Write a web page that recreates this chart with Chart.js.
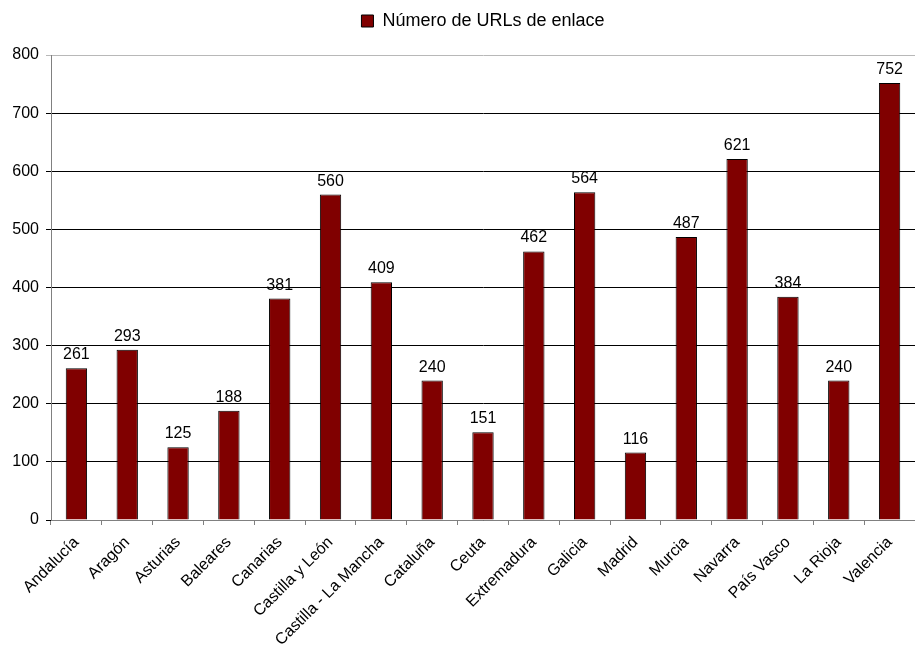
<!DOCTYPE html>
<html>
<head>
<meta charset="utf-8">
<script src="https://cdn.jsdelivr.net/npm/chart.js@4/dist/chart.umd.min.js"></script>
<style>
  html, body { margin: 0; padding: 0; background: #fff; }
  #wrap { width: 915px; height: 649px; }
</style>
</head>
<body>
<div id="wrap"><canvas id="chart" width="915" height="649"></canvas></div>
<script>
// Values
var regiones = ["Andalucía", "Aragón", "Asturias", "Baleares", "Canarias", "Castilla y León",
  "Castilla - La Mancha", "Cataluña", "Ceuta", "Extremadura", "Galicia", "Madrid",
  "Murcia", "Navarra", "País Vasco", "La Rioja", "Valencia"];
var urls = [261, 293, 125, 188, 381, 560, 409, 240, 151, 462, 564, 116, 487, 621, 384, 240, 752];
var serieNombre = "Número de URLs de enlace";

Chart.defaults.font.family = "'Liberation Sans', Arial, sans-serif";
Chart.defaults.font.size = 16;
Chart.defaults.color = "#000";

// draw the value on top of every bar
var barLabels = {
  id: "barLabels",
  afterDatasetsDraw: function (chart) {
    var c = chart.ctx;
    var meta = chart.getDatasetMeta(0);
    c.save();
    c.font = "16px 'Liberation Sans', Arial, sans-serif";
    c.fillStyle = "#000";
    c.textAlign = "center";
    c.textBaseline = "alphabetic";
    meta.data.forEach(function (bar, i) {
      c.fillText(chart.data.datasets[0].data[i], bar.x, bar.y - 9);
    });
    c.restore();
  }
};

var ctx = document.getElementById("chart").getContext("2d");
new Chart(ctx, {
  type: "bar",
  data: {
    labels: regiones,
    datasets: [{
      label: serieNombre,
      data: urls,
      backgroundColor: "#800000",
      borderColor: "#000",
      borderWidth: 1,
      barPercentage: 0.42,
      categoryPercentage: 1
    }]
  },
  plugins: [barLabels],
  options: {
    responsive: false,
    animation: false,
    layout: { padding: { top: 0, right: 0, left: 0, bottom: 0 } },
    plugins: {
      tooltip: { enabled: false },
      legend: {
        position: "top",
        fullSize: false,
        labels: {
          boxWidth: 12,
          boxHeight: 12,
          padding: 12,
          font: { size: 18 }
        }
      }
    },
    scales: {
      // empty top axis, only used as a gap under the legend
      gap: {
        type: "category",
        position: "top",
        display: true,
        afterFit: function (s) { s.height = 15; },
        grid: { display: false },
        border: { display: false },
        ticks: { display: false }
      },
      x: {
        offset: true,
        afterFit: function (s) { s.height = 129; },
        grid: {
          offset: true,
          drawOnChartArea: false,
          drawTicks: true,
          tickLength: 5,
          color: "#808080"
        },
        border: { color: "#808080" },
        ticks: {
          autoSkip: false,
          maxRotation: 45,
          minRotation: 45,
          padding: 8,
          font: { size: 16 }
        }
      },
      y: {
        min: 0,
        max: 800,
        afterFit: function (s) { s.width = 51; },
        grid: {
          tickLength: 5,
          color: function (c) { return c.tick && c.tick.value === 800 ? "#b8b8b8" : "#000"; }
        },
        border: { color: "#808080" },
        ticks: {
          stepSize: 100,
          padding: 7,
          font: { size: 16 }
        }
      }
    }
  }
});
</script>
</body>
</html>
